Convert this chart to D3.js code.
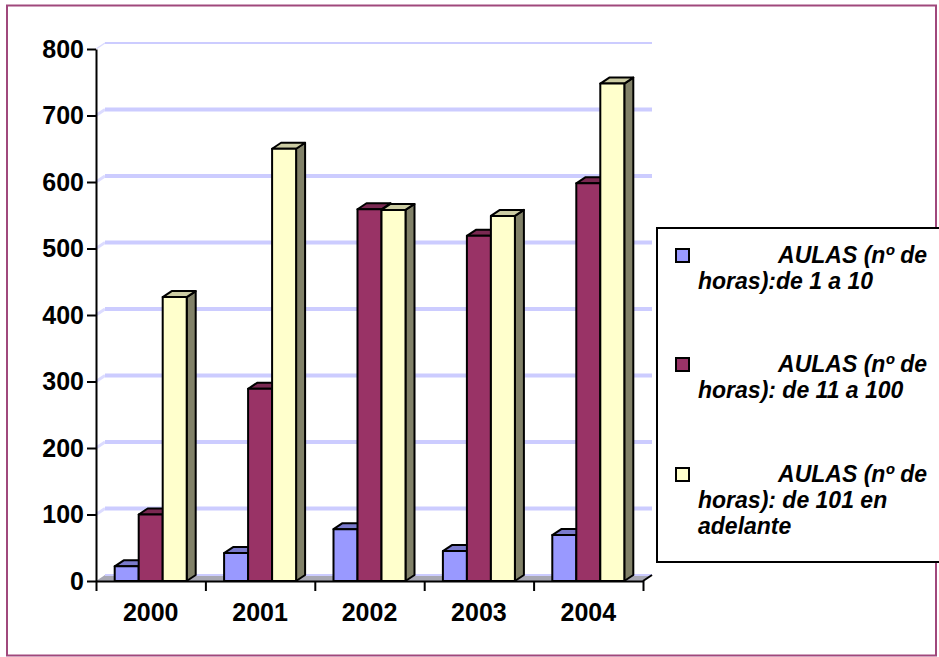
<!DOCTYPE html>
<html>
<head>
<meta charset="utf-8">
<script src="https://cdn.jsdelivr.net/npm/d3@7"></script>
<style>
  body { margin: 0; background: #fff; }
  svg text { font-family: "Liberation Sans", Arial, sans-serif; }
</style>
</head>
<body>
<svg id="drawing_region"></svg>
<script>
// data
const years = ['2000', '2001', '2002', '2003', '2004'];
const seriesNames = [
    ['AULAS (nº de', 'horas):de 1 a 10'],
    ['AULAS (nº de', 'horas): de 11 a 100'],
    ['AULAS (nº de', 'horas): de 101 en', 'adelante']
];
const hours1to10 = [22, 42, 78, 45, 69];
const hours11to100 = [100, 289, 559, 519, 598];
const hours101plus = [427, 650, 558, 549, 748];
const yTicks = [0, 100, 200, 300, 400, 500, 600, 700, 800];
const colors = ['#9999ff', '#993366', '#ffffcc'];

const series = [hours1to10, hours11to100, hours101plus];

const width = 939, height = 657;
const dx = 9, dy = -6;   // 3d depth offset

const svg = d3.select('#drawing_region')
    .attr('width', width)
    .attr('height', height);

// outer frame
svg.append('rect')
    .attr('x', 7).attr('y', 5.5)
    .attr('width', 929).attr('height', 650)
    .attr('fill', 'none')
    .attr('stroke', '#a0487c')
    .attr('stroke-width', 2);

const xscale = d3.scaleBand()
    .domain(years)
    .range([96, 643]);
const yscale = d3.scaleLinear()
    .domain([0, 800])
    .range([581, 49]);
const barW = 24;
const sub = d3.scaleBand()
    .domain([0, 1, 2])
    .range([-barW * 1.5, barW * 1.5]);

// gridlines on back wall
const grid = svg.append('g');
yTicks.filter(v => v > 0).forEach(v => {
    const y = yscale(v);
    grid.append('line')
        .attr('x1', 96).attr('y1', y)
        .attr('x2', 96 + dx).attr('y2', y + dy)
        .attr('stroke', '#dcdcff').attr('stroke-width', v == 800 ? 1.5 : 3);
    grid.append('line')
        .attr('x1', 96 + dx).attr('y1', y + dy)
        .attr('x2', 652).attr('y2', y + dy)
        .attr('stroke', '#ccccff').attr('stroke-width', v == 800 ? 2 : 4);
});

// floor
const y0 = yscale(0);
svg.append('polygon')
    .attr('points', [[96, y0], [643, y0], [643 + dx, y0 + dy], [96 + dx, y0 + dy]].join(' '))
    .attr('fill', '#a8a8b4');
svg.append('line')
    .attr('x1', 96 + dx).attr('y1', y0 + dy)
    .attr('x2', 643 + dx).attr('y2', y0 + dy)
    .attr('stroke', '#ccccff').attr('stroke-width', 2);

// bars
const bars = svg.append('g')
    .attr('stroke', '#000')
    .attr('stroke-width', 2)
    .attr('stroke-linejoin', 'round');
years.forEach((yr, i) => {
    const cx = xscale(yr) + xscale.bandwidth() / 2;
    series.forEach((s, j) => {
        const x = cx + sub(j);
        const yv = yscale(s[i]);
        const c = d3.color(colors[j]);
        bars.append('polygon')
            .attr('points', [[x + barW, yv], [x + barW + dx, yv + dy], [x + barW + dx, y0 + dy], [x + barW, y0]].join(' '))
            .attr('fill', c.darker(1.9));
        bars.append('polygon')
            .attr('points', [[x, yv], [x + dx, yv + dy], [x + barW + dx, yv + dy], [x + barW, yv]].join(' '))
            .attr('fill', d3.rgb(c.r * 0.8, c.g * 0.8, c.b * 0.8));
        bars.append('rect')
            .attr('x', x).attr('y', yv)
            .attr('width', barW).attr('height', y0 - yv)
            .attr('fill', colors[j]);
    });
});

// y axis
const yaxis = d3.axisLeft(yscale)
    .tickValues(yTicks)
    .tickSize(9)
    .tickSizeOuter(0)
    .tickPadding(3);
const yg = svg.append('g')
    .attr('transform', 'translate(96,0)')
    .call(yaxis);
yg.selectAll('path, line').attr('stroke', '#000').attr('stroke-width', 2);
yg.selectAll('text')
    .attr('fill', '#000')
    .style('font-size', '25px')
    .style('font-weight', 'bold');

// x axis: boundary ticks
const bscale = d3.scaleLinear().domain([0, 5]).range([96, 643]);
const xb = svg.append('g')
    .attr('transform', `translate(0,${y0})`)
    .call(d3.axisBottom(bscale).ticks(5).tickSize(10).tickSizeOuter(0).tickFormat(''));
xb.selectAll('path, line').attr('stroke', '#000').attr('stroke-width', 2);
svg.append('line')
    .attr('x1', 643).attr('y1', y0)
    .attr('x2', 643 + dx).attr('y2', y0 + dy)
    .attr('stroke', '#000').attr('stroke-width', 2);

// x labels
const xl = svg.append('g')
    .attr('transform', `translate(0,${y0})`)
    .call(d3.axisBottom(xscale).tickSize(0).tickPadding(22));
xl.select('.domain').remove();
xl.selectAll('text')
    .attr('fill', '#000')
    .style('font-size', '25px')
    .style('font-weight', 'bold');

// legend
const legend = svg.append('g');
legend.append('rect')
    .attr('x', 657).attr('y', 228)
    .attr('width', 290).attr('height', 334)
    .attr('fill', '#fff')
    .attr('stroke', '#000').attr('stroke-width', 2);
const legendTop = [249, 358, 468];
seriesNames.forEach((lines, j) => {
    const g = legend.append('g');
    g.append('rect')
        .attr('x', 676).attr('y', legendTop[j])
        .attr('width', 13).attr('height', 13)
        .attr('fill', colors[j])
        .attr('stroke', '#000').attr('stroke-width', 2);
    lines.forEach((t, k) => {
        g.append('text')
            .attr('x', k == 0 ? 927 : 698)
            .attr('y', legendTop[j] + 14 + k * 26)
            .attr('text-anchor', k == 0 ? 'end' : 'start')
            .style('font-size', '23px')
            .style('font-weight', 'bold')
            .style('font-style', 'italic')
            .text(t);
    });
});
</script>
</body>
</html>
